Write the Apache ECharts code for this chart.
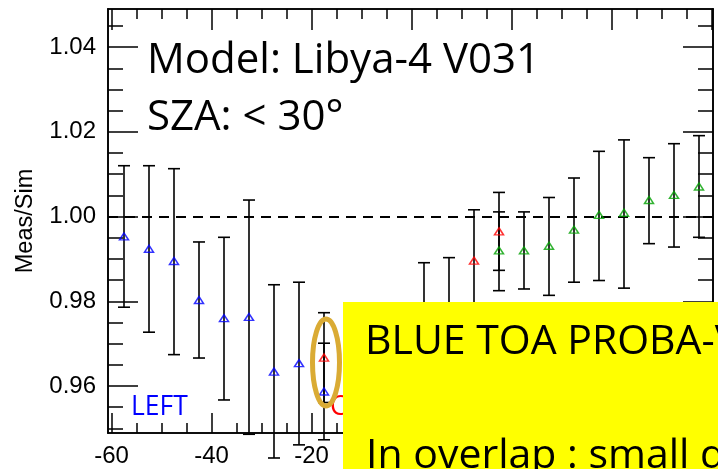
<!DOCTYPE html>
<html>
<head>
<meta charset="utf-8">
<script src="https://cdn.jsdelivr.net/npm/echarts@6/dist/echarts.min.js"></script>
<style>html,body{margin:0;padding:0;background:#fff}#c{width:718px;height:469px}</style>
</head>
<body>
<div id="c"></div>
<script>
// ---- data ----
const leftX   = [-57.5, -52.5, -47.5, -42.5, -37.5, -32.5, -27.5, -22.5, -17.5];
const leftVal = [0.9953, 0.9924, 0.9895, 0.9803, 0.9760, 0.9763, 0.9634, 0.9654, 0.9587];
const leftHi  = [1.0120, 1.0120, 1.0113, 0.9940, 0.9951, 1.0039, 0.9839, 0.9845, 0.9701];
const leftLo  = [0.9786, 0.9727, 0.9674, 0.9666, 0.9567, 0.9486, 0.9430, 0.9461, 0.9473];

const overX   = [-17.5, 2.5, 7.5, 12.5, 17.5];
const overVal = [0.9667, 0.9760, 0.9775, 0.9896, 0.9965];
const overHi  = [0.9773, 0.9891, 0.9903, 1.0016, 1.0057];
const overLo  = [0.9561, 0.9629, 0.9647, 0.9776, 0.9873];

const rightX   = [17.5, 22.5, 27.5, 32.5, 37.5, 42.5, 47.5, 52.5, 57.5];
const rightVal = [0.9920, 0.9920, 0.9931, 0.9969, 1.0004, 1.0009, 1.0039, 1.0051, 1.0071];
const rightHi  = [1.0011, 1.0011, 1.0045, 1.0091, 1.0154, 1.0181, 1.0139, 1.0172, 1.0191];
const rightLo  = [0.9825, 0.9829, 0.9814, 0.9845, 0.9849, 0.9831, 0.9936, 0.9928, 0.9951];

const refLine = 1.00;

const xMajorTicks = [-60, -40, -20, 0, 20, 40, 60];
const xMinorTicks = [-60, -55, -50, -45, -40, -35, -30, -25, -20, -15, -10, -5, 0, 5, 10, 15, 20, 25, 30, 35, 40, 45, 50, 55, 60];
const yMajorTicks = [0.96, 0.98, 1.00, 1.02, 1.04];
const yMinorTicks = [0.950, 0.955, 0.960, 0.965, 0.970, 0.975, 0.980, 0.985, 0.990, 0.995, 1.000, 1.005, 1.010, 1.015, 1.020, 1.025, 1.030, 1.035, 1.040, 1.045];

const xMin = -60.7, xMax = 60.3, yMin = 0.9489, yMax = 1.049;

// ---- chart ----
const chart = echarts.init(document.getElementById('c'), null, {renderer: 'canvas'});
const axisFont = 'Liberation Sans';
const black = '#000';

function xAx(pos, ticks, len, labels) {
  return {
    type: 'value', min: xMin, max: xMax, position: pos,
    axisLine: {show: true, onZero: false, lineStyle: {color: black, width: 1.6}},
    axisTick: {show: true, inside: true, length: len, customValues: ticks, lineStyle: {color: black, width: 1.5}},
    axisLabel: labels ? {show: true, customValues: labels, color: black, fontFamily: axisFont, fontSize: 24, margin: 11} : {show: false},
    splitLine: {show: false}
  };
}
function yAx(pos, ticks, len, labels) {
  const a = {
    type: 'value', min: yMin, max: yMax, position: pos,
    axisLine: {show: true, onZero: false, lineStyle: {color: black, width: 1.6}},
    axisTick: {show: true, inside: true, length: len, customValues: ticks, lineStyle: {color: black, width: 1.5}},
    axisLabel: labels ? {show: true, customValues: labels, color: black, fontFamily: axisFont, fontSize: 24, margin: 12,
      formatter: v => Number(v).toFixed(2)} : {show: false},
    splitLine: {show: false}
  };
  if (labels) {
    a.name = 'Meas/Sim';
    a.nameLocation = 'middle';
    a.nameGap = 70;
    a.nameTextStyle = {color: black, fontFamily: axisFont, fontSize: 23.5};
  }
  return a;
}

function errData(xs, lo, hi) { return xs.map((x, i) => [x, lo[i], hi[i]]); }
function ptData(xs, v) { return xs.map((x, i) => [x, v[i]]); }

function errSeries(xs, lo, hi) {
  return {
    type: 'custom', xAxisIndex: 0, yAxisIndex: 0, clip: false, z: 3,
    data: errData(xs, lo, hi),
    encode: {x: 0, y: [1, 2]},
    renderItem: function (params, api) {
      const x = api.value(0);
      const pHi = api.coord([x, api.value(2)]);
      const pLo = api.coord([x, api.value(1)]);
      const w = 6;
      const st = {stroke: '#000', lineWidth: 1.6};
      return {type: 'group', children: [
        {type: 'line', shape: {x1: pHi[0], y1: pHi[1], x2: pLo[0], y2: pLo[1]}, style: st},
        {type: 'line', shape: {x1: pHi[0] - w, y1: pHi[1], x2: pHi[0] + w, y2: pHi[1]}, style: st},
        {type: 'line', shape: {x1: pLo[0] - w, y1: pLo[1], x2: pLo[0] + w, y2: pLo[1]}, style: st}
      ]};
    }
  };
}
function ptSeries(xs, v, color) {
  return {
    type: 'scatter', xAxisIndex: 0, yAxisIndex: 0, clip: false, z: 5,
    symbol: 'triangle', symbolSize: [9, 7],
    itemStyle: {color: 'rgba(0,0,0,0)', borderColor: color, borderWidth: 1.5},
    emphasis: {disabled: true},
    data: ptData(xs, v)
  };
}

const option = {
  backgroundColor: '#fff',
  animation: false,
  grid: {left: 108, right: 5, top: 9, bottom: 36, containLabel: false, outerBoundsMode: 'none'},
  xAxis: [
    xAx('bottom', xMajorTicks, 20, xMajorTicks),
    xAx('bottom', xMinorTicks, 10, null),
    xAx('top', xMajorTicks, 21, null),
    xAx('top', xMinorTicks, 10, null)
  ],
  yAxis: [
    yAx('left', yMajorTicks, 30, yMajorTicks),
    yAx('left', yMinorTicks, 15, null),
    yAx('right', yMajorTicks, 30, null),
    yAx('right', yMinorTicks, 15, null)
  ],
  series: [
    {
      type: 'line', xAxisIndex: 0, yAxisIndex: 0, data: [], silent: true,
      markLine: {
        silent: true, symbol: ['none', 'none'], label: {show: false},
        lineStyle: {color: black, width: 2.2, type: [10, 7]},
        data: [{yAxis: refLine}]
      }
    },
    errSeries(leftX, leftLo, leftHi),
    errSeries(overX, overLo, overHi),
    errSeries(rightX, rightLo, rightHi),
    ptSeries(leftX, leftVal, '#0000ff'),
    ptSeries(overX, overVal, '#ff0000'),
    ptSeries(rightX, rightVal, '#00a000')
  ],
  graphic: [
    {type: 'text', x: 147, y: 61, z: 50, style: {text: 'Model: Libya-4 V031', font: '42px "Open Sans"', fill: '#000', align: 'left', verticalAlign: 'middle'}},
    {type: 'text', x: 147, y: 118, z: 50, style: {text: 'SZA: < 30°', font: '42px "Open Sans"', fill: '#000', align: 'left', verticalAlign: 'middle'}},
    {type: 'text', x: 131, y: 407.5, z: 50, style: {text: 'LEFT', font: '26.5px "Open Sans"', fill: '#0000ff', align: 'left', verticalAlign: 'middle'}},
    {type: 'text', x: 330, y: 407.5, z: 50, style: {text: 'CENTER', font: '26.5px "Open Sans"', fill: '#ff0000', align: 'left', verticalAlign: 'middle'}},
    {type: 'ellipse', z: 60, shape: {cx: 326, cy: 362.5, rx: 13.5, ry: 43.5}, style: {fill: 'none', stroke: '#DAAB34', lineWidth: 5}},
    {type: 'rect', z: 100, shape: {x: 343, y: 302, width: 400, height: 200}, style: {fill: '#ffff00'}},
    {type: 'text', x: 365, y: 342.5, z: 101, style: {text: 'BLUE TOA PROBA-V', font: '41px "Open Sans"', fill: '#000', align: 'left', verticalAlign: 'middle'}},
    {type: 'text', x: 366, y: 456, z: 101, style: {text: 'In overlap : small difference', font: '41px "Open Sans"', fill: '#000', align: 'left', verticalAlign: 'middle'}}
  ]
};
chart.setOption(option);
</script>
</body>
</html>
